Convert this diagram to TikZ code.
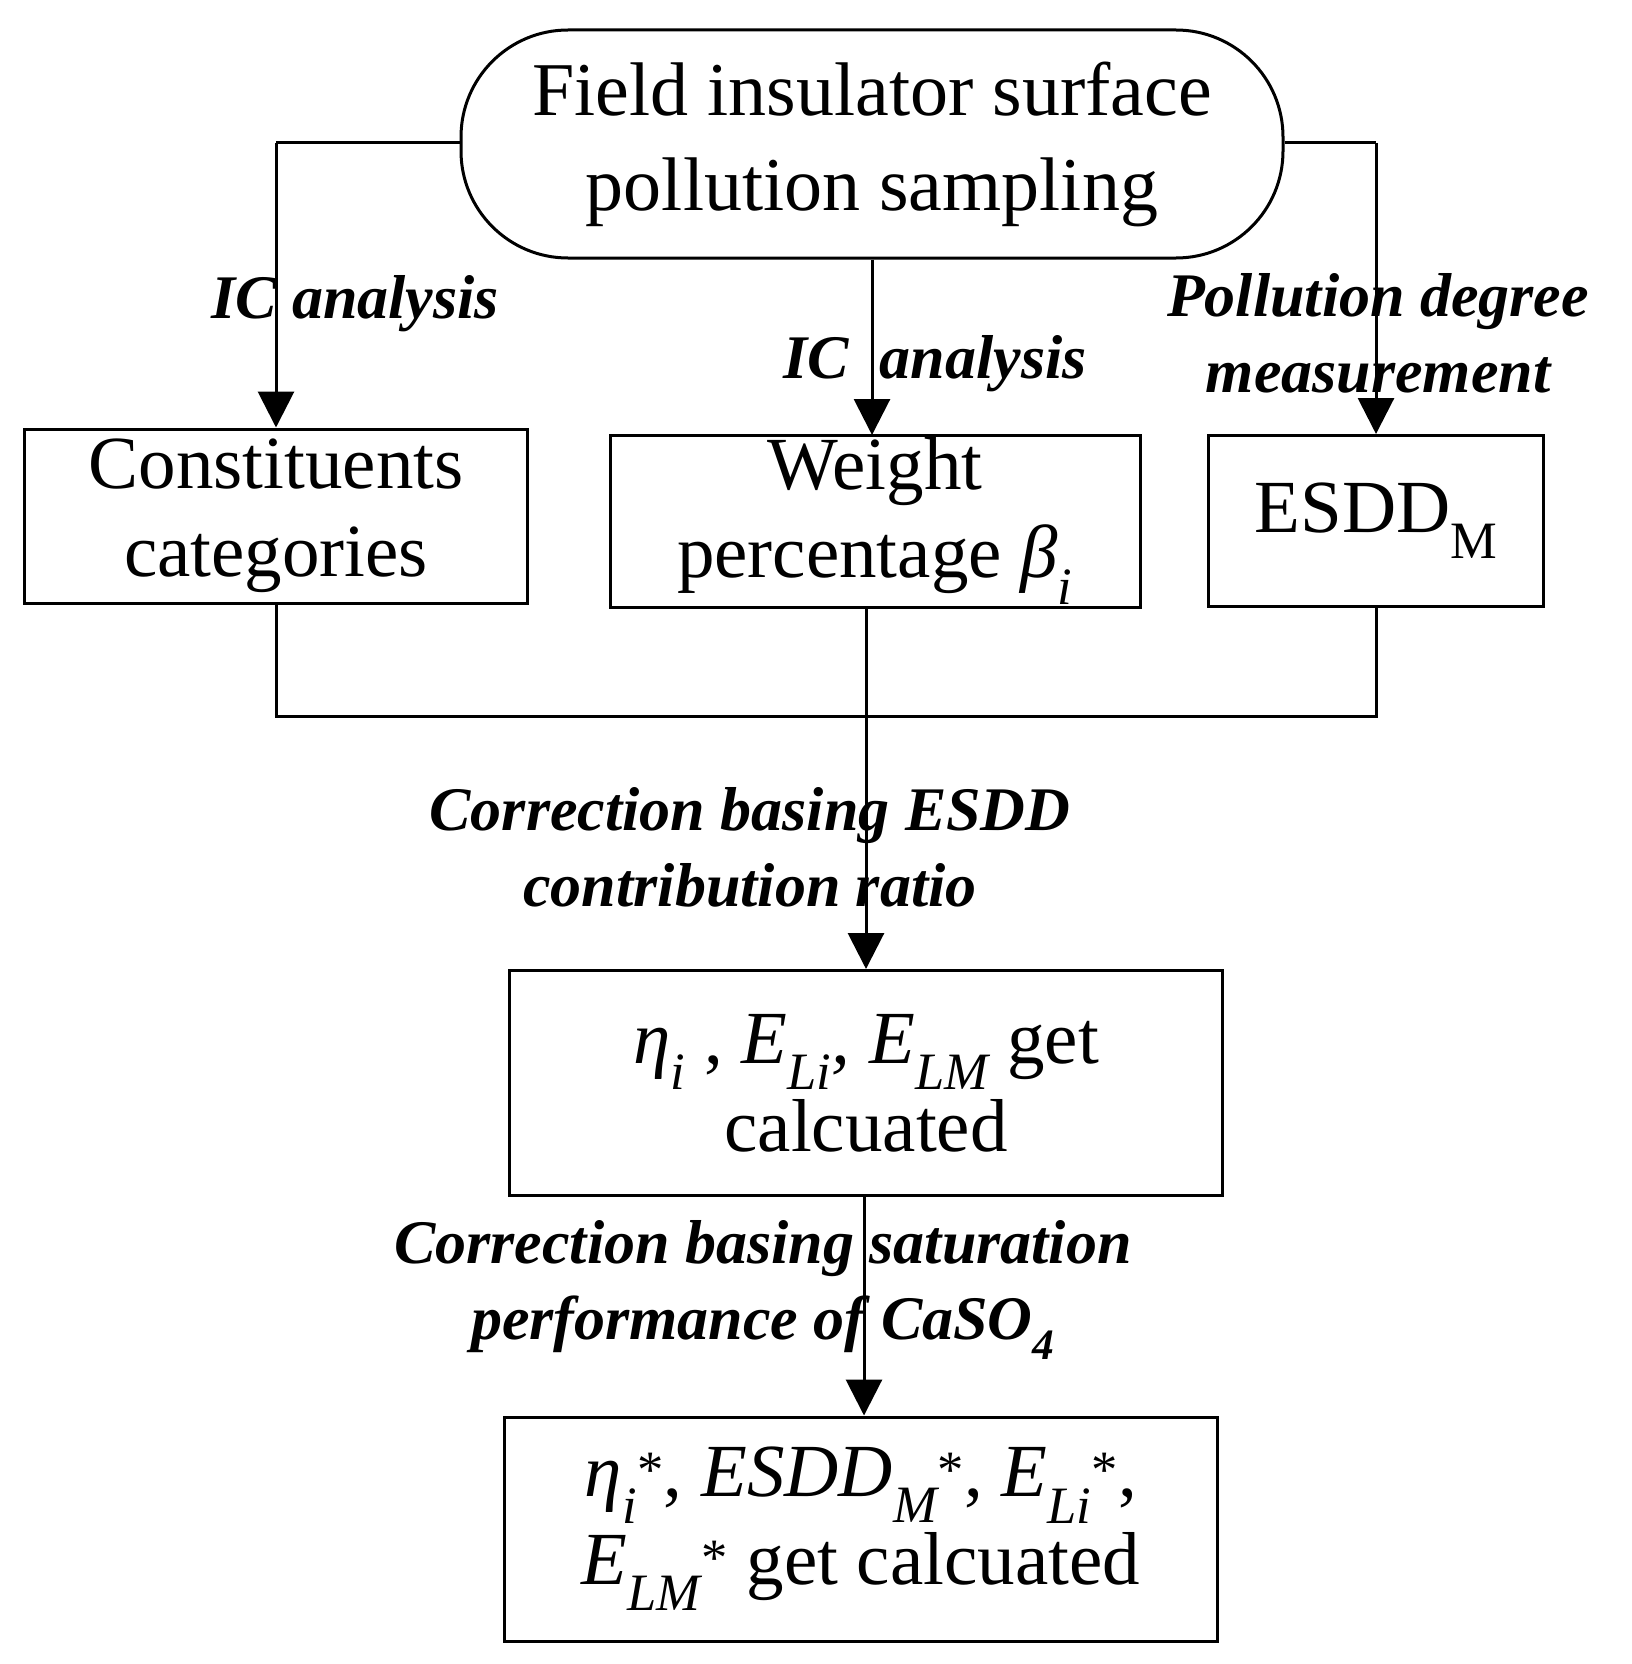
\documentclass[tikz,border=0pt]{standalone}
\usepackage{fontspec}
\setmainfont{Liberation Serif}
\usetikzlibrary{arrows.meta}
\newcommand{\mysb}[1]{\textsubscript{\textit{#1}}}
\newcommand{\mysp}[1]{\textsuperscript{#1}}
\begin{document}
\begin{tikzpicture}[x=1pt,y=-1pt,
  box/.style={draw,line width=3pt,inner sep=0pt,font=\fontsize{75}{88}\selectfont,align=center},
  lab/.style={font=\fontsize{62}{76}\selectfont\bfseries\itshape,align=center},
  ln/.style={line width=3pt},
  arr/.style={ln,-{Triangle[width=36pt,length=36pt]}}]
\useasboundingbox (0,0) rectangle (1631,1664);
\node[box,font=\fontsize{76}{95}\selectfont,rounded corners=107pt,minimum width=822pt,minimum height=228pt] (top) at (872,144) {Field insulator surface\\pollution sampling};
\node[box,minimum width=503pt,minimum height=174pt] (b1) at (276,516) {Constituents\\categories};
\node[box,minimum width=530pt,minimum height=172pt] (b2) at (875,521) {Weight\\percentage \textit{β\mysb{i}}};
\node[box,minimum width=335pt,minimum height=171pt] (b3) at (1376,521) {ESDD\textsubscript{M}};
\node[box,minimum width=713pt,minimum height=225pt] (b4) at (866,1083) {\textit{η\mysb{i}} , \textit{E\mysb{Li}, E\mysb{LM}} get\\calcuated};
\node[box,minimum width=713pt,minimum height=224pt] (b5) at (861,1529) {\textit{η\mysb{i}}\mysp{*}, \textit{ESDD\mysb{M}}\mysp{*}, \textit{E\mysb{Li}}\mysp{*},\\\textit{E\mysb{LM}}\mysp{*} get calcuated};
\coordinate (tl) at (276,143);
\coordinate (tr) at (1376,143);
\draw[ln] (top.west |- tl) -- (tl);
\draw[arr] (tl) -- (b1.north);
\draw[ln] (top.east |- tr) -- (tr);
\draw[arr] (tr) -- (b3.north);
\draw[arr] (top.south -| 872,0) -- (872,435);
\coordinate (ml) at (276,716);
\coordinate (mr) at (1376,716);
\draw[ln] (b1.south) -- (ml) -- (mr) -- (b3.south);
\draw[arr] (b2.south -| 866,0) -- (b4.north -| 866,0);
\draw[arr] (b4.south -| 864,0) -- (b5.north -| 864,0);
\node[lab] (l1) at (355,304) {IC analysis};
\node[lab] (l2) at (935,364) {IC~ analysis};
\node[lab] (l3) at (1378,333) {Pollution degree\\measurement};
\node[lab] (l4) at (750,847) {Correction basing ESDD\\contribution ratio};
\node[lab] (l5) at (763,1290) {Correction basing saturation\\performance of CaSO\textsubscript{4}};
\end{tikzpicture}
\end{document}
